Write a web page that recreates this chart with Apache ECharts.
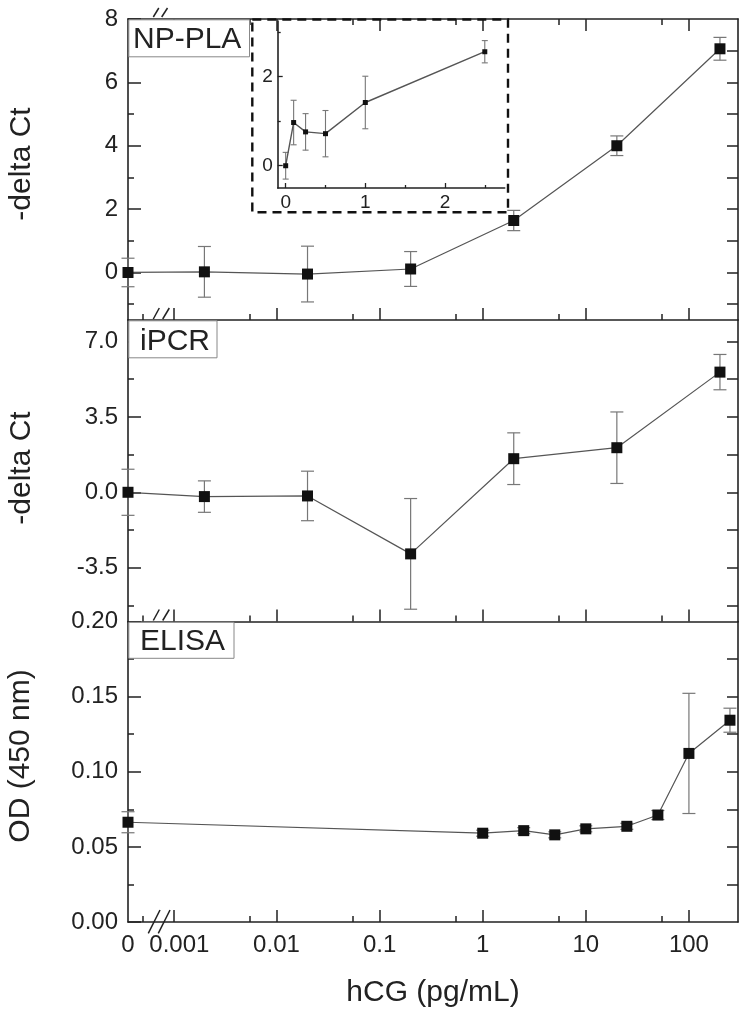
<!DOCTYPE html>
<html>
<head>
<meta charset="utf-8">
<script src="https://cdn.jsdelivr.net/npm/echarts@6/dist/echarts.min.js"></script>
<style>html,body{margin:0;padding:0;background:#fff}#c{width:750px;height:1019px}</style>
</head>
<body>
<div id="c"></div>
<script>
// ---------------- data ----------------
// x concentrations (pg/mL); 0 is drawn at the axis break position
const npX = [0, 0.002, 0.02, 0.2, 2, 20, 200];
const npY = [0, 0.02, -0.05, 0.11, 1.64, 4.0, 7.06];
const npErr = [0.45, 0.8, 0.88, 0.55, 0.32, 0.31, 0.36];

const insetX = [0, 0.1, 0.25, 0.5, 1, 2.5];
const insetY = [0, 0.97, 0.76, 0.72, 1.42, 2.56];
const insetErr = [0.3, 0.5, 0.41, 0.52, 0.59, 0.25];

const ipcrX = [0, 0.002, 0.02, 0.2, 2, 20, 200];
const ipcrY = [0, -0.2, -0.17, -2.86, 1.56, 2.07, 5.58];
const ipcrErr = [1.07, 0.73, 1.15, 2.57, 1.2, 1.66, 0.82];

const elisaX = [0, 1, 2.5, 5, 10, 25, 50, 100, 250];
const elisaY = [0.0664, 0.0591, 0.0608, 0.058, 0.062, 0.0637, 0.0712, 0.1122, 0.1343];
const elisaErr = [0.007, 0.002, 0.002, 0.002, 0.002, 0.002, 0.003, 0.04, 0.008];

// tick values
const xLabelValues = [0, 0.001, 0.01, 0.1, 1, 10, 100];
const xLabelTexts = ['0', '0.001', '0.01', '0.1', '1', '10', '100'];
const xMajorTicks = [0.001, 0.01, 0.1, 1, 10, 100];
const xMinorTicks = [0.0005, 0.0055, 0.055, 0.55, 5.5, 55];

const np_yLabels = [0, 2, 4, 6, 8];
const np_yMinor = [-1, 1, 3, 5, 7];
const np_yRight = [-1, 0, 1, 2, 3, 4, 5, 6, 7];

const ipcr_yLabels = [-3.5, 0, 3.5, 7];
const ipcr_yMinor = [-5.25, -1.75, 1.75, 5.25];
const ipcr_yRight = [-5.25, -3.5, -1.75, 0, 1.75, 3.5, 5.25, 7];

const elisa_yLabels = [0, 0.05, 0.1, 0.15, 0.2];
const elisa_yMinor = [0.025, 0.075, 0.125, 0.175];
const elisa_yRight = [0.025, 0.05, 0.075, 0.1, 0.125, 0.15, 0.175];

const inset_xLabels = [0, 1, 2];
const inset_xMinor = [0.5, 1.5, 2.5];
const inset_yLabels = [0, 2];
const inset_yMinor = [1, 3];

// ---------------- layout ----------------
const XMIN = -3.44, XMAX = 2.476;   // log10 space; 0 sits at XMIN
function lx(v) { return v === 0 ? XMIN : Math.log10(v); }
const FONT = '"Liberation Sans", Arial, Helvetica, sans-serif';
const AX = '#222';
const grids = [
  {left: 128, top: 19, width: 610, height: 301},
  {left: 128, top: 320, width: 610, height: 301.5},
  {left: 128, top: 621.5, width: 610, height: 300.5},
  {left: 277.7, top: 21, width: 227, height: 167}
].map(g => Object.assign({outerBoundsMode: 'none', containLabel: false}, g));

const xAxes = [], yAxes = [];
function addX(o) { xAxes.push(o); return xAxes.length - 1; }
function addY(o) { yAxes.push(o); return yAxes.length - 1; }

function logX(grid, position, ticks, len, showLine, labels) {
  return addX({
    type: 'value', gridIndex: grid, position: position, min: XMIN, max: XMAX,
    axisLine: {show: showLine, onZero: false, lineStyle: {color: AX, width: 1.6}},
    axisTick: {show: true, inside: true, length: len, customValues: ticks.map(lx), lineStyle: {color: AX, width: 1.5}},
    axisLabel: labels ? {
      show: true, customValues: xLabelValues.map(lx), margin: 11,
      color: AX, fontFamily: FONT, fontSize: 24,
      formatter: v => {
        const i = xLabelValues.map(lx).findIndex(t => Math.abs(t - v) < 1e-9);
        const s = i >= 0 ? xLabelTexts[i] : '';
        return s === '0.001' ? '{s|' + s + '}' : s;
      },
      rich: {s: {fontFamily: FONT, fontSize: 24, color: AX, padding: [0, 0, 0, 12]}}
    } : {show: false},
    splitLine: {show: false}
  });
}
function valY(grid, position, min, max, ticks, len, showLine, labels, fmt) {
  return addY({
    type: 'value', gridIndex: grid, position: position, min: min, max: max,
    axisLine: {show: showLine, onZero: false, lineStyle: {color: AX, width: 1.6}},
    axisTick: {show: true, inside: true, length: len, customValues: ticks, lineStyle: {color: AX, width: 1.5}},
    axisLabel: labels ? {show: true, customValues: labels, margin: 10, color: AX, fontFamily: FONT, fontSize: 24, formatter: fmt} : {show: false},
    splitLine: {show: false}
  });
}

// panel 1
const x0 = logX(0, 'bottom', xMajorTicks, 12, true, false);
logX(0, 'bottom', xMinorTicks, 6, false, false);
logX(0, 'top', xMajorTicks, 12, true, false);
logX(0, 'top', xMinorTicks.slice(1), 6, false, false);
const y0 = valY(0, 'left', -1.5, 8, np_yLabels, 13, true, np_yLabels, v => String(v));
valY(0, 'left', -1.5, 8, np_yMinor, 6, false, null);
valY(0, 'right', -1.5, 8, np_yRight, 11, true, null);
// panel 2
const x1 = logX(1, 'bottom', xMajorTicks, 12, true, false);
logX(1, 'bottom', xMinorTicks, 6, false, false);
const y1 = valY(1, 'left', -6, 8, ipcr_yLabels, 13, true, ipcr_yLabels, v => v.toFixed(1));
valY(1, 'left', -6, 8, ipcr_yMinor, 6, false, null);
valY(1, 'right', -6, 8, ipcr_yRight, 11, true, null);
// panel 3
const x2 = logX(2, 'bottom', xMajorTicks, 12, true, true);
logX(2, 'bottom', xMinorTicks, 6, false, false);
const y2 = valY(2, 'left', 0, 0.2, elisa_yLabels, 13, true, elisa_yLabels, v => v.toFixed(2));
valY(2, 'left', 0, 0.2, elisa_yMinor, 6, false, null);
valY(2, 'right', 0, 0.2, elisa_yRight, 11, true, null);
// inset
function linAxis(isX, min, max, ticks, len, labels) {
  const o = {
    type: 'value', gridIndex: 3, position: isX ? 'bottom' : 'left', min: min, max: max,
    axisLine: {show: !!labels, onZero: false, lineStyle: {color: AX, width: 1.6}},
    axisTick: {show: true, inside: true, length: len, customValues: ticks, lineStyle: {color: AX, width: 1.3}},
    axisLabel: labels ? {show: true, customValues: labels, margin: 5, color: AX, fontFamily: FONT, fontSize: 19} : {show: false},
    splitLine: {show: false}
  };
  return isX ? addX(o) : addY(o);
}
const x3 = linAxis(true, -0.1, 2.75, inset_xLabels, 5, inset_xLabels);
linAxis(true, -0.1, 2.75, inset_xMinor, 3, null);
const y3 = linAxis(false, -0.5, 3.25, inset_yLabels, 5, inset_yLabels);
linAxis(false, -0.5, 3.25, inset_yMinor, 3, null);

// ---------------- series ----------------
function errSeries(xi, yi, xs, ys, errs, xf, cap, width) {
  return {
    type: 'custom', xAxisIndex: xi, yAxisIndex: yi, clip: false, z: 2, silent: true,
    encode: {x: 0, y: [1, 2]},
    data: xs.map((x, i) => [xf(x), ys[i] - errs[i], ys[i] + errs[i]]),
    renderItem: (params, api) => {
      const lo = api.coord([api.value(0), api.value(1)]);
      const hi = api.coord([api.value(0), api.value(2)]);
      const h = cap / 2;
      const st = {stroke: '#777', lineWidth: width};
      return {type: 'group', children: [
        {type: 'line', shape: {x1: lo[0], y1: lo[1], x2: hi[0], y2: hi[1]}, style: st},
        {type: 'line', shape: {x1: lo[0] - h, y1: lo[1], x2: lo[0] + h, y2: lo[1]}, style: st},
        {type: 'line', shape: {x1: hi[0] - h, y1: hi[1], x2: hi[0] + h, y2: hi[1]}, style: st}
      ]};
    }
  };
}
function lineSeries(xi, yi, xs, ys, xf, size, lw) {
  return {
    type: 'line', xAxisIndex: xi, yAxisIndex: yi, clip: false, z: 3, silent: true,
    data: xs.map((x, i) => [xf(x), ys[i]]),
    symbol: 'rect', symbolSize: size, showAllSymbol: true,
    itemStyle: {color: '#111'},
    lineStyle: {color: '#555', width: lw}
  };
}
const idX = v => v;
const series = [
  errSeries(x0, y0, npX, npY, npErr, lx, 13, 1.2),
  lineSeries(x0, y0, npX, npY, lx, 11, 1.2),
  errSeries(x1, y1, ipcrX, ipcrY, ipcrErr, lx, 13, 1.2),
  lineSeries(x1, y1, ipcrX, ipcrY, lx, 11, 1.2),
  errSeries(x2, y2, elisaX, elisaY, elisaErr, lx, 13, 1.2),
  lineSeries(x2, y2, elisaX, elisaY, lx, 11, 1.2),
  errSeries(x3, y3, insetX, insetY, insetErr, idX, 6, 1.1),
  lineSeries(x3, y3, insetX, insetY, idX, 5, 1.4)
];

// ---------------- decorations ----------------
function slash(x1, y1, x2, y2) {
  return {type: 'line', z: 10, shape: {x1, y1, x2, y2}, style: {stroke: AX, lineWidth: 1.5}};
}
function labelBox(x, y, w, h, tx, ty, text) {
  return [
    {type: 'rect', z: 5, shape: {x: x, y: y, width: w, height: h}, style: {fill: '#fff', stroke: '#888', lineWidth: 1}},
    {type: 'text', z: 6, x: tx, y: ty, style: {text: text, fill: AX, fontFamily: FONT, fontSize: 30, align: 'left', verticalAlign: 'middle'}}
  ];
}
function vTitle(x, y, text) {
  return {type: 'text', z: 6, x: x, y: y, rotation: Math.PI / 2,
    style: {text: text, fill: AX, fontFamily: FONT, fontSize: 30, align: 'center', verticalAlign: 'middle'}};
}
const graphic = [].concat(
  labelBox(128.8, 19.8, 120.7, 37, 133, 39.5, 'NP-PLA'),
  labelBox(128.8, 320.8, 88.2, 37, 140, 342, 'iPCR'),
  labelBox(128.8, 622.3, 105.2, 36, 140, 641.5, 'ELISA'),
  [
    vTitle(22, 164, '-delta Ct'),
    vTitle(22, 468, '-delta Ct'),
    vTitle(21, 756, 'OD (450 nm)'),
    {type: 'text', z: 6, x: 433, y: 993, style: {text: 'hCG (pg/mL)', fill: AX, fontFamily: FONT, fontSize: 30, align: 'center', verticalAlign: 'middle'}},
    // axis break marks
    slash(153.3, 17, 158.8, 8), slash(161.7, 17, 167.5, 8),
    slash(153.3, 319, 159.3, 308), slash(162.7, 319, 169.3, 308),
    slash(153.3, 620.5, 159.3, 609.5), slash(162.7, 620.5, 169.3, 609.5),
    slash(148.3, 933.3, 160, 910), slash(158.3, 933.3, 170, 910),
    // inset frame
    {type: 'rect', z: 4, shape: {x: 252.3, y: 19.5, width: 255.7, height: 192.8},
      style: {fill: 'none', stroke: '#111', lineWidth: 2.4, lineDash: [9, 6]}}
  ]
);

const chart = echarts.init(document.getElementById('c'), null, {renderer: 'canvas'});
chart.setOption({
  animation: false,
  backgroundColor: '#fff',
  grid: grids,
  xAxis: xAxes,
  yAxis: yAxes,
  series: series,
  graphic: graphic
});
</script>
</body>
</html>
